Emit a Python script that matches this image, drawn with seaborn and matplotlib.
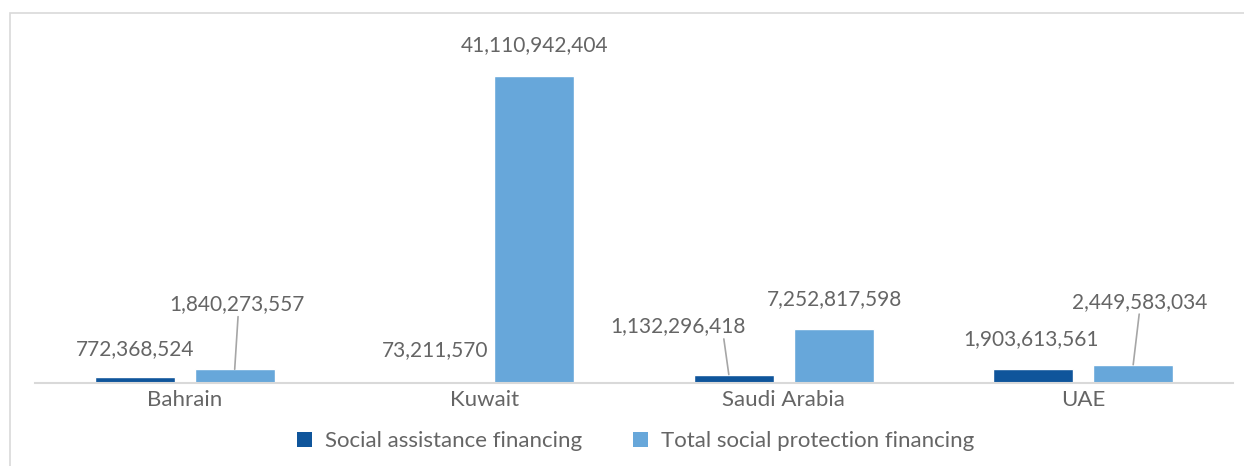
import matplotlib
matplotlib.use("Agg")
import matplotlib.pyplot as plt
from matplotlib.patches import Patch, Rectangle
import pandas as pd
import seaborn as sns

# Financing by country (USD)
countries = ["Bahrain", "Kuwait", "Saudi Arabia", "UAE"]
social_assistance = [772368524, 73211570, 1132296418, 1903613561]
total_social_protection = [1840273557, 41110942404, 7252817598, 2449583034]
series_names = ["Social assistance financing", "Total social protection financing"]
series_colors = ["#0f559b", "#67a7da"]

df = pd.DataFrame({
    "country": countries * 2,
    "series": [series_names[0]] * len(countries) + [series_names[1]] * len(countries),
    "value": social_assistance + total_social_protection,
})

sns.set_theme(style="white")
plt.rcParams["font.family"] = ["Lato", "DejaVu Sans"]
TEXT = "#656565"

W, H = 1244, 466
fig = plt.figure(figsize=(W / 100, H / 100), dpi=100)

# outer chart frame
fig.patches.append(Rectangle((10 / W, -0.05), 1.1, (H - 13) / H + 0.05,
                             transform=fig.transFigure, fill=False,
                             edgecolor="#d9d9d9", lw=1.2, zorder=0))

ymax = 45e9
ax_left, ax_right = 35, 1233
ax = fig.add_axes([ax_left / W, (H - 383) / H, (ax_right - ax_left) / W, 336 / H])
sns.barplot(data=df, x="country", y="value", hue="series", order=countries,
            hue_order=series_names, palette=series_colors, width=0.667, gap=0.2,
            saturation=1, legend=False, ax=ax)
ax.set_ylim(0, ymax)
ax.set_xlim(-0.5, len(countries) - 0.5)
ax.set_xlabel("")
ax.set_ylabel("")
ax.set_yticks([])
ax.tick_params(axis="x", length=0, pad=5, labelsize=16, labelcolor=TEXT)
for s in ["top", "right", "left"]:
    ax.spines[s].set_visible(False)
ax.spines["bottom"].set_color("#d9d9d9")
ax.spines["bottom"].set_linewidth(1.5)

px_per_unit = (ax_right - ax_left) / len(countries)

# label placement per (series, country): label offset dx, dy in px,
# leader line?, leader start relpos x, leader end offset from bar centre in px
placement = {
    (0, 0): (0, 28, False, 0.5, 0), (1, 0): (2, 65, True, 0.51, 0),
    (0, 1): (1, 32, False, 0.5, 0), (1, 1): (0, 31, False, 0.5, 0),
    (0, 2): (-56, 48, True, 0.84, -5), (1, 2): (1, 30, False, 0.5, 0),
    (0, 3): (-2, 30, False, 0.5, 0), (1, 3): (6, 63, True, 0.5, 0),
}
LABEL_SIZE = 15

values = [social_assistance, total_social_protection]
for si, cont in enumerate(ax.containers):
    for ci, bar in enumerate(cont):
        v = values[si][ci]
        xc = bar.get_x() + bar.get_width() / 2
        top = bar.get_height()
        dx, dy, leader, rx, edx = placement[(si, ci)]
        ax.annotate(f"{v:,.0f}", xy=(xc, top), xytext=(dx, dy),
                    textcoords="offset pixels", ha="center", va="center",
                    fontsize=LABEL_SIZE, color=TEXT, annotation_clip=False)
        if leader:
            end_x = xc + edx / px_per_unit
            ax.annotate(f"{v:,.0f}", xy=(end_x, top),
                        xytext=(dx - edx, dy), textcoords="offset pixels",
                        ha="center", va="center", fontsize=LABEL_SIZE,
                        color="none", annotation_clip=False,
                        arrowprops=dict(arrowstyle="-", color="#a6a6a6", lw=1.2,
                                        relpos=(rx, -0.12), shrinkA=0, shrinkB=0,
                                        patchA=None))

handles = [Patch(facecolor=c, edgecolor="none") for c in series_colors]
fig.legend(handles, series_names, loc="center", bbox_to_anchor=(636 / W, (H - 441) / H),
           ncol=2, frameon=False, fontsize=16, labelcolor=TEXT,
           handlelength=0.65, handleheight=0.65, handletextpad=0.6, columnspacing=2.3)

fig.savefig("out.png", dpi=100)
